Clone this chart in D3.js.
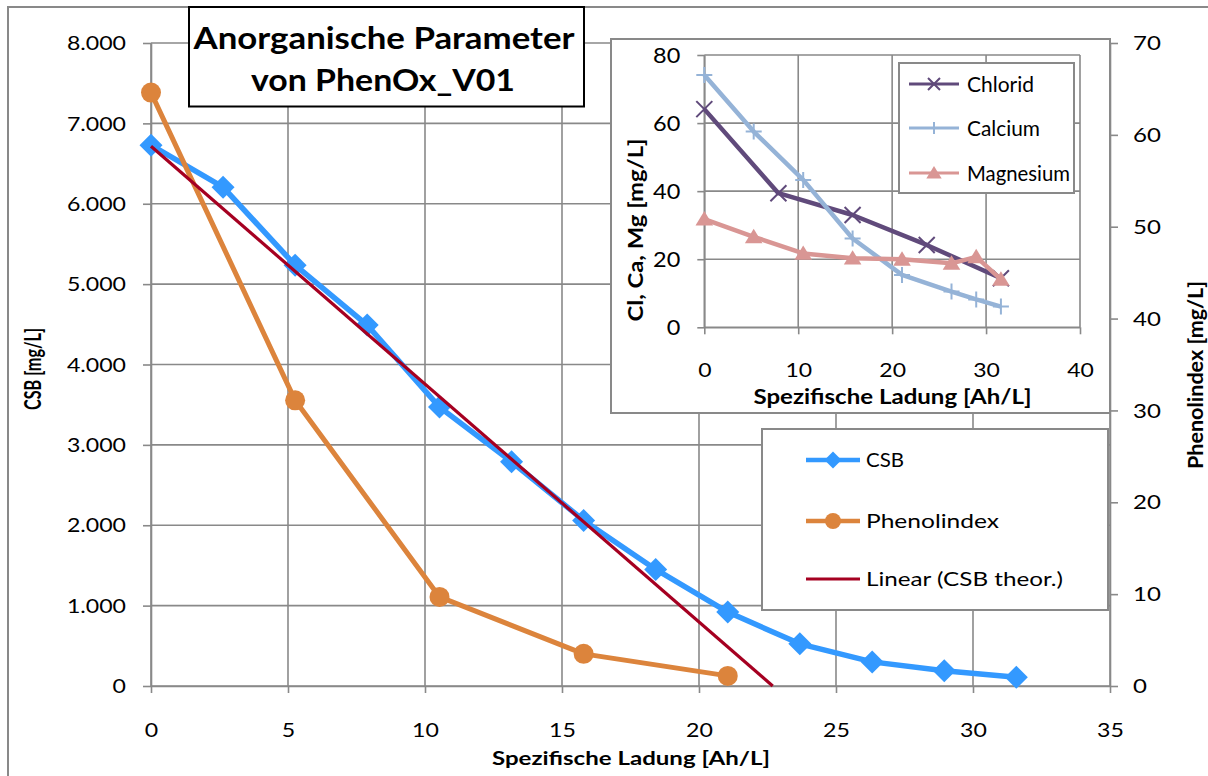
<!DOCTYPE html>
<html><head><meta charset="utf-8">
<script src="https://cdn.jsdelivr.net/npm/d3@7"></script>
<style>
html,body{margin:0;padding:0;background:#fff;}
svg{display:block;font-family:Lato,"Open Sans",sans-serif;}
</style></head><body>
<svg id="chart" width="1208" height="776"></svg>
<script>
// ---------- data ----------
const chargeCSB = [0, 2.63, 5.26, 7.89, 10.53, 13.16, 15.79, 18.42, 21.05, 23.68, 26.32, 28.95, 31.58];
const csbValues = [6728, 6206, 5236, 4490, 3470, 2790, 2060, 1450, 920, 525, 300, 190, 110];
const chargePhenol = [0, 5.26, 10.53, 15.79, 21.05];
const phenolValues = [64.6, 31.1, 9.7, 3.5, 1.1];
const chargeTheor = [0, 22.69];
const csbTheor = [6716, 0];

const chargeChlorid = [0, 7.89, 15.79, 23.68, 31.58];
const chloridValues = [64.1, 39.4, 33.0, 24.2, 14.4];
const chargeCaMg = [0, 5.26, 10.53, 15.79, 21.05, 26.32, 28.95, 31.58];
const calciumValues = [74.1, 57.5, 43.3, 26.1, 15.4, 10.5, 8.2, 6.1];
const magnesiumValues = [31.8, 26.6, 21.7, 20.3, 20.0, 18.8, 20.7, 14.1];

const xTicks = [0, 5, 10, 15, 20, 25, 30, 35];
const csbTicks = [0, 1000, 2000, 3000, 4000, 5000, 6000, 7000, 8000];
const phenolTicks = [0, 10, 20, 30, 40, 50, 60, 70];
const insetXTicks = [0, 10, 20, 30, 40];
const insetYTicks = [0, 20, 40, 60, 80];

const titleLines = ["Anorganische Parameter", "von PhenOx_V01"];
const mainLegend = ["CSB", "Phenolindex", "Linear (CSB theor.)"];
const insetLegend = ["Chlorid", "Calcium", "Magnesium"];

// ---------- setup ----------
const svg = d3.select("#chart");
const GRID = "#898989";
const C_CSB = "#3399FF", C_PH = "#DC843C", C_TH = "#A50021";
const C_CL = "#604A7B", C_CA = "#95B3D7", C_MG = "#D99694";
const de = d3.formatLocale({decimal: ",", thousands: ".", grouping: [3], currency: ["", "€"]});
const fmtK = de.format(",d");

function label(parent, str, o) {
  const sx = o.sx || 1;
  const g = parent.append("g").attr("transform",
    `translate(${o.x},${o.y}) scale(${sx},1) rotate(${o.rot || 0})`);
  const t = g.append("text")
    .attr("text-anchor", o.anchor || "start")
    .attr("font-size", o.size)
    .attr("font-weight", o.weight || "normal")
    .attr("fill", "#000")
    .text(str);
  if (o.dy) t.attr("dy", o.dy);
  if (o.len) t.attr("textLength", o.rot ? o.len : o.len / sx).attr("lengthAdjust", "spacingAndGlyphs");
  return t;
}

// chart border
svg.append("rect").attr("x", 8).attr("y", 7).attr("width", 1230).attr("height", 800)
  .attr("fill", "#fff").attr("stroke", GRID).attr("stroke-width", 2);

// ---------- main scales ----------
const x = d3.scaleLinear().domain([0, 35]).range([151, 1110]);
const yL = d3.scaleLinear().domain([0, 8000]).range([686, 43]);
const yR = d3.scaleLinear().domain([0, 70]).range([686, 43]);

const main = svg.append("g");
main.append("g").selectAll("line").data(csbTicks).join("line")
  .attr("x1", x(0)).attr("x2", x(35)).attr("y1", d => yL(d)).attr("y2", d => yL(d))
  .attr("stroke", GRID).attr("stroke-width", 1.6);
main.append("g").selectAll("line").data(xTicks).join("line")
  .attr("x1", d => x(d)).attr("x2", d => x(d)).attr("y1", yL(0)).attr("y2", yL(8000))
  .attr("stroke", GRID).attr("stroke-width", 1.6);

function styleAxis(g) {
  g.selectAll("path.domain").attr("stroke", GRID).attr("stroke-width", 1.6);
  g.selectAll(".tick line").attr("stroke", GRID).attr("stroke-width", 1.6);
  g.selectAll("text").attr("fill", "#000").attr("font-family", "Lato").attr("x", null).attr("y", null).attr("dy", null);
}

const gL = main.append("g").attr("transform", `translate(${x(0)},0)`)
  .call(d3.axisLeft(yL).tickValues(csbTicks).tickFormat(fmtK).tickSize(8).tickSizeOuter(0));
styleAxis(gL);
gL.selectAll("text").attr("font-size", 18.5).attr("text-anchor", "end")
  .attr("dy", "0.36em").attr("transform", "translate(-25,0) scale(1.25,1)");

const gB = main.append("g").attr("transform", `translate(0,${yL(0)})`)
  .call(d3.axisBottom(x).tickValues(xTicks).tickFormat(d3.format("d")).tickSize(7).tickSizeOuter(0));
styleAxis(gB);
gB.selectAll("text").attr("font-size", 18.5).attr("text-anchor", "middle")
  .attr("dy", "0.36em").attr("transform", "translate(0,44) scale(1.25,1)");

const gR = main.append("g").attr("transform", `translate(${x(35)},0)`)
  .call(d3.axisRight(yR).tickValues(phenolTicks).tickFormat(d3.format("d")).tickSize(8).tickSizeOuter(0));
styleAxis(gR);
gR.selectAll("text").attr("font-size", 18.5).attr("text-anchor", "start")
  .attr("dy", "0.36em").attr("transform", "translate(23,0) scale(1.3,1)");

// series
const lineCSB = d3.line().x((d, i) => x(chargeCSB[i])).y(d => yL(d));
main.append("path").datum(csbValues).attr("d", lineCSB)
  .attr("fill", "none").attr("stroke", C_CSB).attr("stroke-width", 5.5).attr("stroke-linejoin", "round");
const diamond = (s) => `M0,${-s}L${s},0L0,${s}L${-s},0Z`;
main.append("g").selectAll("path").data(csbValues).join("path")
  .attr("transform", (d, i) => `translate(${x(chargeCSB[i])},${yL(d)})`)
  .attr("d", diamond(11.5)).attr("fill", C_CSB);

const linePh = d3.line().x((d, i) => x(chargePhenol[i])).y(d => yR(d));
main.append("path").datum(phenolValues).attr("d", linePh)
  .attr("fill", "none").attr("stroke", C_PH).attr("stroke-width", 5).attr("stroke-linejoin", "round");
main.append("g").selectAll("circle").data(phenolValues).join("circle")
  .attr("cx", (d, i) => x(chargePhenol[i])).attr("cy", d => yR(d)).attr("r", 10).attr("fill", C_PH);

const lineTh = d3.line().x((d, i) => x(chargeTheor[i])).y(d => yL(d));
main.append("path").datum(csbTheor).attr("d", lineTh)
  .attr("fill", "none").attr("stroke", C_TH).attr("stroke-width", 3.2);

// axis titles
label(svg, "Spezifische Ladung [Ah/L]", {x: 631, y: 765, size: 19.5, weight: "bold", anchor: "middle", len: 278});
label(svg, "CSB [mg/L]", {x: 41, y: 369, size: 18, weight: "bold", anchor: "middle", rot: -90, len: 82, sx: 1.3});
label(svg, "Phenolindex [mg/L]", {x: 1203, y: 375, size: 21, weight: "bold", anchor: "middle", rot: -90, len: 188});

// ---------- inset ----------
const ins = svg.append("g");
ins.append("rect").attr("x", 611).attr("y", 39).attr("width", 499).attr("height", 374)
  .attr("fill", "#fff").attr("stroke", GRID).attr("stroke-width", 2);
const ix = d3.scaleLinear().domain([0, 40]).range([704.3, 1080]);
const iy = d3.scaleLinear().domain([0, 80]).range([327.3, 55]);

ins.append("g").selectAll("line").data(insetYTicks).join("line")
  .attr("x1", ix(0)).attr("x2", ix(40)).attr("y1", d => iy(d)).attr("y2", d => iy(d))
  .attr("stroke", GRID).attr("stroke-width", 1.6);
ins.append("g").selectAll("line").data(insetXTicks).join("line")
  .attr("x1", d => ix(d)).attr("x2", d => ix(d)).attr("y1", iy(0)).attr("y2", iy(80))
  .attr("stroke", GRID).attr("stroke-width", 1.6);

const giL = ins.append("g").attr("transform", `translate(${ix(0)},0)`)
  .call(d3.axisLeft(iy).tickValues(insetYTicks).tickFormat(d3.format("d")).tickSize(7).tickSizeOuter(0));
styleAxis(giL);
giL.selectAll("text").attr("font-size", 21).attr("text-anchor", "end")
  .attr("dy", "0.36em").attr("transform", "translate(-24,0) scale(1.12,1)");
const giB = ins.append("g").attr("transform", `translate(0,${iy(0)})`)
  .call(d3.axisBottom(ix).tickValues(insetXTicks).tickFormat(d3.format("d")).tickSize(7).tickSizeOuter(0));
styleAxis(giB);
giB.selectAll("text").attr("font-size", 20).attr("text-anchor", "middle")
  .attr("dy", "0.36em").attr("transform", "translate(0,42.5) scale(1.15,1)");

const lineCl = d3.line().x((d, i) => ix(chargeChlorid[i])).y(d => iy(d));
const lineCaMg = d3.line().x((d, i) => ix(chargeCaMg[i])).y(d => iy(d));

function xMark(s) { return `M${-s},${-s}L${s},${s}M${-s},${s}L${s},${-s}`; }
function plusMark(s) { return `M${-s},0L${s},0M0,${-s}L0,${s}`; }
function triMark(s) { return `M0,${-s}L${s * 1.1},${s * 0.8}L${-s * 1.1},${s * 0.8}Z`; }

ins.append("path").datum(chloridValues).attr("d", lineCl)
  .attr("fill", "none").attr("stroke", C_CL).attr("stroke-width", 4.5).attr("stroke-linejoin", "round");
ins.append("g").selectAll("path").data(chloridValues).join("path")
  .attr("transform", (d, i) => `translate(${ix(chargeChlorid[i])},${iy(d)})`)
  .attr("d", xMark(8)).attr("stroke", C_CL).attr("stroke-width", 2).attr("fill", "none");

ins.append("path").datum(calciumValues).attr("d", lineCaMg)
  .attr("fill", "none").attr("stroke", C_CA).attr("stroke-width", 4.5).attr("stroke-linejoin", "round");
ins.append("g").selectAll("path").data(calciumValues).join("path")
  .attr("transform", (d, i) => `translate(${ix(chargeCaMg[i])},${iy(d)})`)
  .attr("d", plusMark(8)).attr("stroke", C_CA).attr("stroke-width", 2).attr("fill", "none");

ins.append("path").datum(magnesiumValues).attr("d", lineCaMg)
  .attr("fill", "none").attr("stroke", C_MG).attr("stroke-width", 4.5).attr("stroke-linejoin", "round");
ins.append("g").selectAll("path").data(magnesiumValues).join("path")
  .attr("transform", (d, i) => `translate(${ix(chargeCaMg[i])},${iy(d)})`)
  .attr("d", triMark(8)).attr("fill", C_MG);

// inset legend
ins.append("rect").attr("x", 899).attr("y", 63).attr("width", 175).attr("height", 130)
  .attr("fill", "#fff").attr("stroke", GRID).attr("stroke-width", 2);
const insLegY = [84, 128, 173];
const insCols = [C_CL, C_CA, C_MG];
const insLens = [67, 73, 103];
insetLegend.forEach((name, i) => {
  const yy = insLegY[i];
  ins.append("line").attr("x1", 909).attr("x2", 959).attr("y1", yy).attr("y2", yy)
    .attr("stroke", insCols[i]).attr("stroke-width", 3);
  const m = ins.append("path").attr("transform", `translate(934,${yy})`);
  if (i === 0) m.attr("d", xMark(6)).attr("stroke", C_CL).attr("stroke-width", 2).attr("fill", "none");
  if (i === 1) m.attr("d", plusMark(6)).attr("stroke", C_CA).attr("stroke-width", 2).attr("fill", "none");
  if (i === 2) m.attr("d", triMark(7)).attr("fill", C_MG);
  label(ins, name, {x: 967, y: yy + 7.5, size: 20.5, len: insLens[i]});
});

label(ins, "Spezifische Ladung [Ah/L]", {x: 892.5, y: 404, size: 21.5, weight: "bold", anchor: "middle", len: 278});
label(ins, "Cl, Ca, Mg [mg/L]", {x: 642.5, y: 230, size: 21.5, weight: "bold", anchor: "middle", rot: -90, len: 183});

// ---------- main legend ----------
const leg = svg.append("g");
leg.append("rect").attr("x", 762).attr("y", 429).attr("width", 346).attr("height", 181)
  .attr("fill", "#fff").attr("stroke", GRID).attr("stroke-width", 2);
const legY = [460, 521, 579];
const legCols = [C_CSB, C_PH, C_TH];
const legLens = [38, 133, 197];
mainLegend.forEach((name, i) => {
  const yy = legY[i];
  leg.append("line").attr("x1", 806).attr("x2", 860).attr("y1", yy).attr("y2", yy)
    .attr("stroke", legCols[i]).attr("stroke-width", i === 2 ? 3.2 : 4.5);
  if (i === 0) leg.append("path").attr("transform", `translate(833,${yy})`).attr("d", diamond(8.5)).attr("fill", C_CSB);
  if (i === 1) leg.append("circle").attr("cx", 833).attr("cy", yy).attr("r", 8).attr("fill", C_PH);
  label(leg, name, {x: 866, y: yy + 7.2, size: 20, len: legLens[i]});
});

// ---------- title box ----------
svg.append("rect").attr("x", 189).attr("y", 7).attr("width", 395).attr("height", 99.5)
  .attr("fill", "#fff").attr("stroke", "#000").attr("stroke-width", 2);
label(svg, titleLines[0], {x: 384, y: 48.5, size: 29.5, weight: "bold", anchor: "middle", len: 381});
label(svg, titleLines[1], {x: 383, y: 90.5, size: 29.5, weight: "bold", anchor: "middle", len: 264});
</script>
</body></html>
